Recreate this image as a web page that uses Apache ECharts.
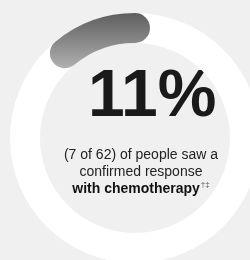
<!DOCTYPE html>
<html>
<head>
<meta charset="utf-8">
<script src="https://cdn.jsdelivr.net/npm/echarts@6/dist/echarts.min.js"></script>
<style>
    html, body { margin: 0; padding: 0; background: #f0f0f0; }
    #chart { width: 250px; height: 260px; }
</style>
</head>
<body>
<div id="chart"></div>
<script>
// response rate, percent of people
const responseRate = [11];
const rateLabels = ['11%'];
const captionLines = ['(7 of 62) of people saw a', 'confirmed response', 'with chemotherapy'];
const footnoteMarks = ['†‡'];

const chart = echarts.init(document.getElementById('chart'));

const option = {
    backgroundColor: '#f0f0f0',
    animation: false,
    series: [
        {
            type: 'gauge',
            center: [135, 138],
            radius: 125,
            startAngle: 90,
            endAngle: 450,
            clockwise: false,
            min: 0,
            max: 100,
            silent: true,
            axisLine: {
                lineStyle: { width: 30, color: [[1, '#ffffff']] }
            },
            progress: {
                show: true,
                width: 30,
                roundCap: true,
                itemStyle: {
                    color: new echarts.graphic.LinearGradient(0, 0, 0, 1, [
                        { offset: 0, color: '#5e5e5e' },
                        { offset: 1, color: '#b0b0b0' }
                    ])
                }
            },
            pointer: { show: false },
            axisTick: { show: false },
            splitLine: { show: false },
            axisLabel: { show: false },
            title: { show: false },
            detail: { show: false },
            data: responseRate.map(v => ({ value: v }))
        }
    ],
    graphic: [
        {
            type: 'text',
            left: 88,
            top: 65,
            style: {
                text: rateLabels[0],
                font: 'bold 66px "Liberation Sans", Arial, sans-serif',
                fill: '#1a1a1a'
            }
        },
        {
            type: 'text',
            x: 141,
            y: 147,
            style: {
                text: captionLines[0] + '\n' + captionLines[1] + '\n{b|' + captionLines[2] + '}{s|' + footnoteMarks[0] + '}',
                align: 'center',
                verticalAlign: 'top',
                font: '14px "Liberation Sans", Arial, sans-serif',
                lineHeight: 17,
                fill: '#222222',
                rich: {
                    b: {
                        font: 'bold 14px "Liberation Sans", Arial, sans-serif',
                        fill: '#111111',
                        lineHeight: 17
                    },
                    s: {
                        font: '8px "Liberation Sans", Arial, sans-serif',
                        fill: '#555555',
                        verticalAlign: 'top',
                        lineHeight: 17,
                        padding: [0, 0, 6, 1]
                    }
                }
            }
        }
    ]
};

chart.setOption(option);
</script>
</body>
</html>
